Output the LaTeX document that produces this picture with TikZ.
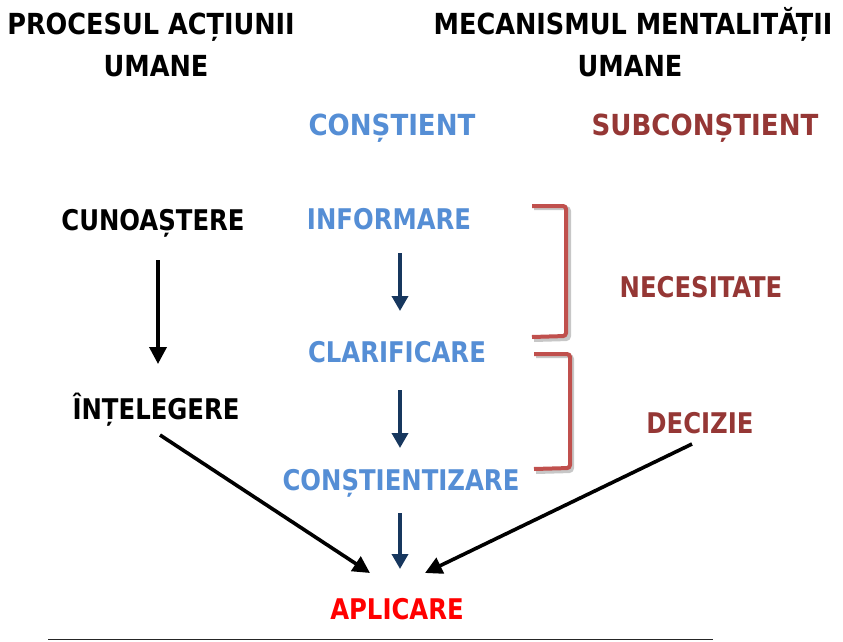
\documentclass[tikz,border=0pt]{standalone}
\usepackage{fontspec}
\setmainfont{DejaVuSansCondensed-Bold.ttf}[FakeStretch=0.95]
\newfontfamily\headfont{DejaVuSansCondensed-Bold.ttf}[FakeStretch=0.98]
\newfontfamily\widefont{DejaVuSansCondensed-Bold.ttf}
\usetikzlibrary{arrows.meta}
\definecolor{cblue}{HTML}{558ED5}
\definecolor{cdred}{HTML}{953735}
\definecolor{cnavy}{HTML}{17375E}
\definecolor{cbrack}{HTML}{C0504D}
\begin{document}
\begin{tikzpicture}[x=1pt,y=-1pt,
  head/.style={font=\headfont\fontsize{29}{33}\selectfont, text=black, inner sep=0pt, anchor=base},
  lbl/.style={font=\fontsize{28.5}{32}\selectfont, inner sep=0pt, anchor=base},
  toplbl/.style={font=\widefont\fontsize{29}{32}\selectfont, inner sep=0pt, anchor=base},
  blk/.style={lbl, text=black},
  con/.style={lbl, text=cblue},
  sub/.style={lbl, text=cdred},
  flowarrow/.style={line width=3.6pt, -{Triangle[length=17pt,width=17pt]}},
  navyarrow/.style={cnavy, line width=3.6pt, -{Triangle[length=15pt,width=16pt]}},
  brack/.style={cbrack, line width=4pt, rounded corners=3pt},
  brackshade/.style={black!22, line width=4pt, rounded corners=3pt}
]
\useasboundingbox (0,0) rectangle (843,642);

% column headings
\node[head] (hleft) at (151,35) {PROCESUL ACȚIUNII};
\node[head] (hleftb) at (156,77) {UMANE};
\node[head] (hright) at (633,35) {MECANISMUL MENTALITĂȚII};
\node[head] (hrightb) at (630,77) {UMANE};

\node[toplbl, text=cblue] (constient) at (392,135) {CONȘTIENT};
\node[toplbl, text=cdred] (subconstient) at (705,135) {SUBCONȘTIENT};

% left column
\node[blk] (cunoastere) at (153,230) {CUNOAȘTERE};
\node[blk] (intelegere) at (156,419) {ÎNȚELEGERE};

% middle column
\node[con] (informare) at (389,229) {INFORMARE};
\node[con] (clarificare) at (397,362) {CLARIFICARE};
\node[con] (constientizare) at (401,490) {CONȘTIENTIZARE};
\node[lbl, text=red] (aplicare) at (397,619) {APLICARE};

% right column
\node[sub] (necesitate) at (701,297) {NECESITATE};
\node[sub] (decizie) at (700,433) {DECIZIE};

% brackets grouping the conscious stages
\draw[brackshade] (534,208) -- (569,208) -- (569,339) -- (534,340);
\draw[brackshade] (536,356) -- (572,356) -- (572,471) -- (536,472);
\draw[brack] (532,206) -- (566,206) -- (566,336) -- (532,337);
\draw[brack] (534,354) -- (570,354) -- (570,468) -- (534,469);

% arrows
\coordinate (a1) at (158,260);
\coordinate (a1e) at (158,364);
\draw[flowarrow] (a1) -- (a1e);
\coordinate (b1) at (400,253);
\coordinate (b1e) at (400,311);
\draw[navyarrow] (b1) -- (b1e);
\coordinate (b2) at (400,390);
\coordinate (b2e) at (400,448);
\draw[navyarrow] (b2) -- (b2e);
\coordinate (b3) at (400,513);
\coordinate (b3e) at (400,569);
\draw[navyarrow] (b3) -- (b3e);
\coordinate (c1) at (160,435);
\coordinate (c1e) at (370,573);
\draw[flowarrow] (c1) -- (c1e);
\coordinate (c2) at (692,444);
\coordinate (c2e) at (425,573);
\draw[flowarrow] (c2) -- (c2e);

% rule at the foot
\coordinate (r1) at (48,639.5);
\coordinate (r2) at (713,639.5);
\draw[line width=1.8pt, black!85] (r1) -- (r2);
\end{tikzpicture}
\end{document}
